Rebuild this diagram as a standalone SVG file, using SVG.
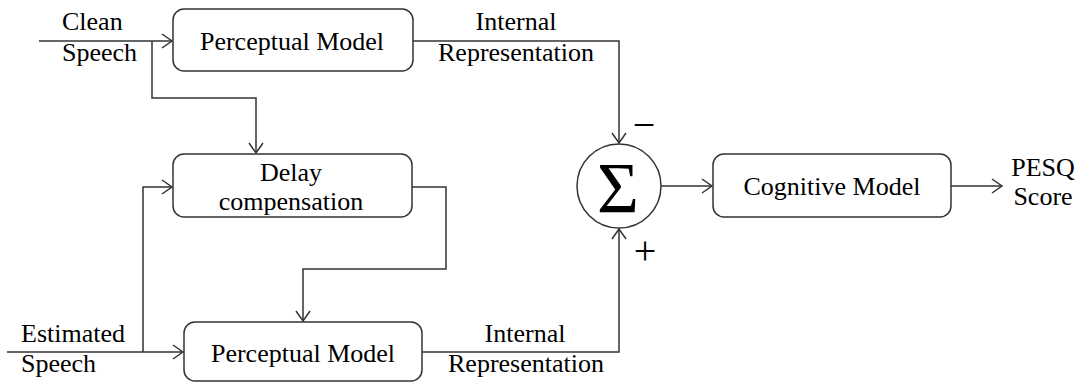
<svg xmlns="http://www.w3.org/2000/svg" width="1085" height="383" viewBox="0 0 1085 383">
<style>
.box{fill:#fff;stroke:#333;stroke-width:1.5}
.ln{fill:none;stroke:#333;stroke-width:1.5}
text{font-family:"Liberation Serif","Times New Roman",serif;font-size:26px;fill:#000}
.c{text-anchor:middle}
.sg{font-size:40px}
</style>
<defs>
<marker id="ah" markerUnits="userSpaceOnUse" markerWidth="14" markerHeight="16" refX="11" refY="8" orient="auto" overflow="visible">
<path d="M1,1 L11,8 L1,15" fill="none" stroke="#333" stroke-width="1.5"/>
</marker>
</defs>
<g id="connectors">
<path class="ln" d="M39,41 H172" marker-end="url(#ah)"/>
<path class="ln" d="M152,41 V98 H256 V153" marker-end="url(#ah)"/>
<path class="ln" d="M413,41 H619 V143" marker-end="url(#ah)"/>
<path class="ln" d="M7,352 H183" marker-end="url(#ah)"/>
<path class="ln" d="M143,352 V187 H172" marker-end="url(#ah)"/>
<path class="ln" d="M412,187 H446 V269 H303 V321" marker-end="url(#ah)"/>
<path class="ln" d="M422,352 H619 V229" marker-end="url(#ah)"/>
<path class="ln" d="M661,186 H712" marker-end="url(#ah)"/>
<path class="ln" d="M951,186 H1002" marker-end="url(#ah)"/>
</g>
<g id="labels">
<text x="62" y="30">Clean</text>
<text x="62" y="61">Speech</text>
<text x="516" y="30" class="c">Internal</text>
<text x="516" y="61" class="c">Representation</text>
<text x="21" y="342">Estimated</text>
<text x="21" y="372">Speech</text>
<text x="525" y="342" class="c">Internal</text>
<text x="526" y="372" class="c">Representation</text>
<text x="1043" y="176" class="c">PESQ</text>
<text x="1043" y="205" class="c">Score</text>
<text x="644" y="138" class="c sg">−</text>
<text x="645" y="264" class="c sg">+</text>
</g>
<g id="perceptual-top">
<rect class="box" x="173" y="9" width="240" height="62" rx="11"/>
<text x="292" y="50" class="c">Perceptual Model</text>
</g>
<g id="delay">
<rect class="box" x="173" y="154" width="239" height="63" rx="11"/>
<text x="291" y="181" class="c">Delay</text>
<text x="291" y="210" class="c">compensation</text>
</g>
<g id="perceptual-bottom">
<rect class="box" x="184" y="322" width="238" height="59" rx="11"/>
<text x="303" y="362" class="c">Perceptual Model</text>
</g>
<g id="sum">
<circle class="box" cx="619" cy="186" r="42"/>
<text x="618" y="212" class="c" style="font-size:72px">Σ</text>
</g>
<g id="cognitive">
<rect class="box" x="713" y="154" width="238" height="63" rx="11"/>
<text x="832" y="195" class="c">Cognitive Model</text>
</g>
</svg>
